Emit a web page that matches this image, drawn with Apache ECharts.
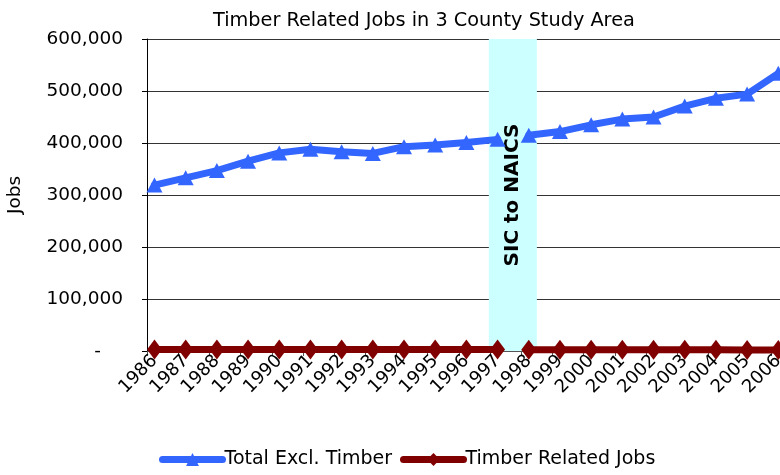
<!DOCTYPE html>
<html>
<head>
<meta charset="utf-8">
<script src="https://cdn.jsdelivr.net/npm/echarts@6/dist/echarts.min.js"></script>
<style>
html,body{margin:0;padding:0;background:#fff;}
#chart{width:780px;height:475px;}
</style>
</head>
<body>
<div id="chart"></div>
<script>
var titleText = 'Timber Related Jobs in 3 County Study Area';
var years = ['1986','1987','1988','1989','1990','1991','1992','1993','1994','1995','1996','1997','1998','1999','2000','2001','2002','2003','2004','2005','2006'];
var totalExclTimber = [319000,333000,347000,365000,381000,388000,383000,380000,393000,396000,401000,407000,415000,422000,435000,446000,450000,471000,486000,494000,534000];
var timberRelatedJobs = [3000,3100,3000,3000,3100,3000,3000,2900,2900,2800,2800,2700,2500,2400,2400,2300,2300,2200,2200,2100,2100];
var seriesNames = ['Total Excl. Timber','Timber Related Jobs'];
var breakAfterYear = '1997';
var bandLabel = 'SIC to NAICS';
var bandRange = [1996.72, 1998.26];
var yTicks = [0,100000,200000,300000,400000,500000,600000];
var xRange = [1985.76, 2006.76];

var FONT = 'DejaVu Sans';
var chart = echarts.init(document.getElementById('chart'));

function pairs(vals, from, to){
  var out = [];
  for (var i = from; i <= to; i++) out.push([Number(years[i]), vals[i]]);
  return out;
}
var bi = years.indexOf(breakAfterYear);
var last = years.length - 1;

function mkSeries(name, vals, color, symbol, size, from, to, withBand){
  var s = {
    name: name, type: 'line', xAxisIndex: 1, yAxisIndex: 0,
    data: pairs(vals, from, to),
    symbol: symbol, symbolSize: size, showSymbol: true,
    lineStyle: {color: color, width: 7, cap: 'round', join: 'round'},
    itemStyle: {color: color},
    emphasis: {disabled: true},
    animation: false, z: 3
  };
  if (withBand) {
    s.markArea = {
      silent: true,
      itemStyle: {color: '#CCFFFF'},
      label: {show: true, position: 'inside', rotate: 90, color: '#000', fontFamily: FONT, fontWeight: 'bold', fontSize: 20, formatter: bandLabel},
      data: [[{xAxis: bandRange[0], yAxis: yTicks[yTicks.length-1]}, {xAxis: bandRange[1], yAxis: yTicks[0]}]]
    };
  }
  return s;
}

var option = {
  backgroundColor: '#fff',
  animation: false,
  title: {
    text: titleText, left: 208, top: 6,
    textStyle: {fontFamily: FONT, fontSize: 19.3, fontWeight: 'normal', color: '#000'}
  },
  legend: {
    bottom: 1, left: 154,
    data: seriesNames,
    itemWidth: 60, itemHeight: 16, itemGap: 8,
    lineStyle: {width: 7, cap: 'round'},
    textStyle: {fontFamily: FONT, fontSize: 19, color: '#000', padding: [0,0,0,-3]}
  },
  grid: {left: 147, top: 39, bottom: 124, width: 655, containLabel: false, outerBoundsMode: 'none'},
  xAxis: [
    {
      type: 'value', min: xRange[0], max: xRange[1], interval: 1, position: 'bottom',
      axisLine: {show: true, onZero: false, lineStyle: {color: '#555', width: 1}},
      axisTick: {show: true, length: 5, lineStyle: {color: '#555'}},
      axisLabel: {show: false},
      splitLine: {show: false}
    },
    {
      type: 'value', min: xRange[0], max: xRange[1], minInterval: 1, maxInterval: 1, position: 'bottom',
      axisLine: {show: false, onZero: false},
      axisTick: {show: false},
      axisLabel: {
        rotate: 45, margin: 7, fontFamily: FONT, fontSize: 18, color: '#000',
        formatter: function(v){ return years.indexOf(String(v)) >= 0 ? String(v) : ''; }
      },
      splitLine: {show: false}
    }
  ],
  yAxis: [{
    type: 'value', min: yTicks[0], max: yTicks[yTicks.length-1], interval: 100000,
    name: 'Jobs', nameLocation: 'middle', nameGap: 122, nameRotate: 90,
    nameTextStyle: {fontFamily: FONT, fontSize: 18.5, color: '#000'},
    axisLine: {show: true, lineStyle: {color: '#000', width: 1}},
    axisTick: {show: true, length: 5, lineStyle: {color: '#000'}},
    axisLabel: {
      margin: 24, fontFamily: FONT, fontSize: 18.5, color: '#000',
      formatter: function(v){ return v === 0 ? '{d|-}' : v.toLocaleString('en-US'); },
      rich: {d: {fontFamily: FONT, fontSize: 18.5, color: '#000', padding: [0, 22, 0, 0]}}
    },
    splitLine: {show: true, lineStyle: {color: '#333', width: 1}}
  }],
  series: [
    mkSeries(seriesNames[0], totalExclTimber, '#3366FF', 'triangle', [16,15], 0, bi, true),
    mkSeries(seriesNames[0], totalExclTimber, '#3366FF', 'triangle', [16,15], bi+1, last, false),
    mkSeries(seriesNames[1], timberRelatedJobs, '#800000', 'diamond', [15,20], 0, bi, false),
    mkSeries(seriesNames[1], timberRelatedJobs, '#800000', 'diamond', [15,20], bi+1, last, false)
  ]
};
chart.setOption(option);
</script>
</body>
</html>
